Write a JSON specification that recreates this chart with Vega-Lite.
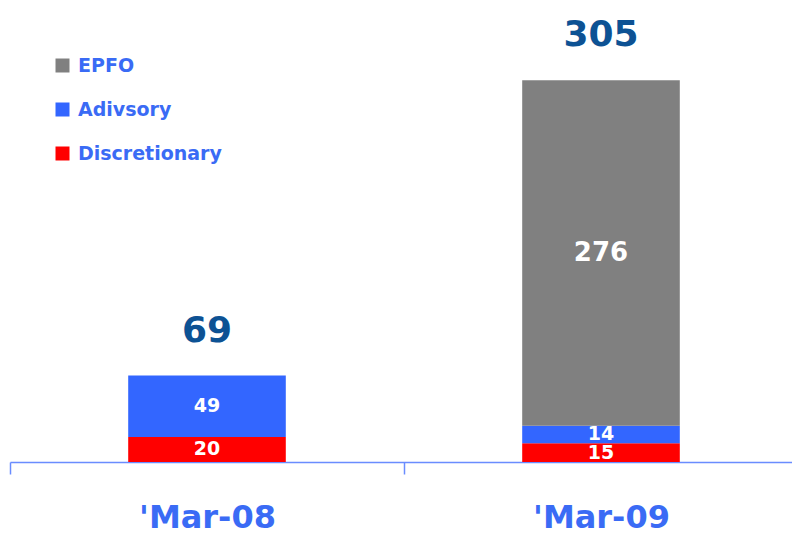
{
  "$schema": "https://vega.github.io/schema/vega-lite/v6.json",
  "width": 788,
  "height": 462,
  "autosize": {"type": "none"},
  "padding": {"left": 10, "top": 0, "right": 0, "bottom": 72},
  "background": "white",
  "config": {"view": {"stroke": null}, "font": "DejaVu Sans"},
  "data": {
    "values": [
      {"period": "'Mar-08", "series": "Discretionary", "value": 20, "stackOrder": 1},
      {"period": "'Mar-08", "series": "Adivsory", "value": 49, "stackOrder": 2},
      {"period": "'Mar-09", "series": "Discretionary", "value": 15, "stackOrder": 1},
      {"period": "'Mar-09", "series": "Adivsory", "value": 14, "stackOrder": 2},
      {"period": "'Mar-09", "series": "EPFO", "value": 276, "stackOrder": 3}
    ]
  },
  "transform": [
    {"stack": "value", "groupby": ["period"], "sort": [{"field": "stackOrder", "order": "ascending"}], "as": ["y0", "y1"]}
  ],
  "encoding": {
    "x": {
      "field": "period",
      "type": "nominal",
      "scale": {"paddingInner": 0.6, "paddingOuter": 0.3},
      "axis": {
        "title": null,
        "labelAngle": 0,
        "domainColor": "#6A8CFF",
        "domainWidth": 1.5,
        "tickColor": "#6A8CFF",
        "tickWidth": 1.5,
        "tickSize": 12,
        "tickOffset": -197,
        "labelOffset": 197,
        "labelFontSize": 32,
        "labelFontWeight": "bold",
        "labelColor": "#3A6BF5",
        "labelPadding": 28
      }
    }
  },
  "layer": [
    {
      "mark": {"type": "bar"},
      "encoding": {
        "y": {"field": "y0", "type": "quantitative", "scale": {"domain": [0, 369], "nice": false, "zero": true}, "axis": null},
        "y2": {"field": "y1"},
        "color": {
          "field": "series",
          "type": "nominal",
          "scale": {"domain": ["EPFO", "Adivsory", "Discretionary"], "range": ["#808080", "#3366FF", "#FF0000"]},
          "legend": {
            "orient": "none",
            "legendX": 43,
            "legendY": 56,
            "title": null,
            "padding": 0,
            "symbolType": "square",
            "symbolSize": 196,
            "symbolStrokeWidth": 0,
            "symbolOpacity": 1,
            "labelFontSize": 19,
            "labelFontWeight": "bold",
            "labelColor": "#3A6BF5",
            "labelOffset": 6,
            "rowPadding": 24
          }
        }
      }
    },
    {
      "transform": [{"calculate": "(datum.y0 + datum.y1) / 2", "as": "ymid"}],
      "mark": {"type": "text", "color": "white", "fontWeight": "bold", "baseline": "middle"},
      "encoding": {
        "y": {"field": "ymid", "type": "quantitative"},
        "text": {"field": "value", "type": "quantitative"},
        "size": {"condition": {"test": "datum.value > 100", "value": 26}, "value": 19}
      }
    },
    {
      "transform": [{"aggregate": [{"op": "sum", "field": "value", "as": "total"}], "groupby": ["period"]}],
      "mark": {"type": "text", "baseline": "bottom", "dy": -26, "fontSize": 36, "fontWeight": "bold", "color": "#0D5294"},
      "encoding": {
        "y": {"field": "total", "type": "quantitative"},
        "text": {"field": "total", "type": "quantitative"}
      }
    }
  ]
}
